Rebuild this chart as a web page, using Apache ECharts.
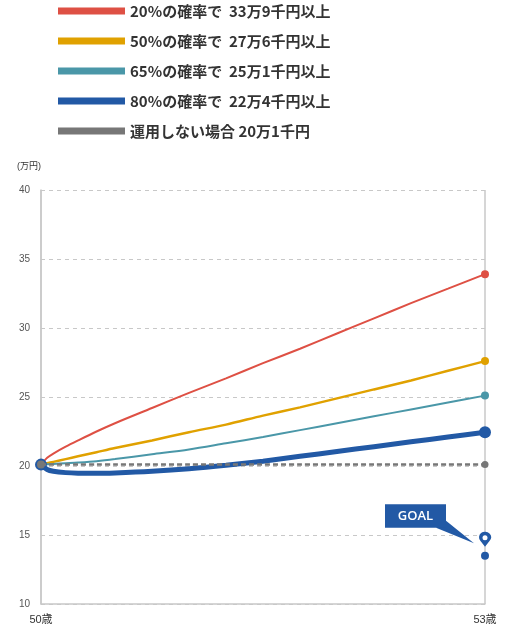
<!DOCTYPE html>
<html>
<head>
<meta charset="utf-8">
<script src="https://cdn.jsdelivr.net/npm/echarts@6/dist/echarts.min.js"></script>
<style>html,body{margin:0;padding:0;background:#fff}#c{width:516px;height:630px}</style>
</head>
<body>
<div id="c"></div>
<script>
// months from age 50
var months = [0, 0.5, 1, 2, 3, 4.5, 6, 9, 12, 15, 18, 21, 24, 27, 30, 33, 36];
var xTickLabels = {0: '50歳', 36: '53歳'};
var seriesNames = [
  '20%の確率で  33万9千円以上',
  '50%の確率で  27万6千円以上',
  '65%の確率で  25万1千円以上',
  '80%の確率で  22万4千円以上',
  '運用しない場合 20万1千円'
];
var p20 = [20.1, 20.6, 20.9, 21.4, 21.85, 22.5, 23.1, 24.2, 25.3, 26.35, 27.45, 28.5, 29.6, 30.7, 31.8, 32.85, 33.9];
var p50 = [20.1, 20.2, 20.3, 20.5, 20.7, 21.0, 21.3, 21.85, 22.45, 23.0, 23.65, 24.25, 24.9, 25.55, 26.2, 26.9, 27.6];
var p65 = [20.1, 20.12, 20.15, 20.2, 20.25, 20.35, 20.5, 20.85, 21.2, 21.65, 22.1, 22.6, 23.1, 23.6, 24.1, 24.6, 25.1];
var p80 = [20.1, 19.75, 19.62, 19.52, 19.48, 19.47, 19.5, 19.62, 19.8, 20.05, 20.35, 20.7, 21.05, 21.4, 21.75, 22.1, 22.45];
var noInvest = [20.1, 20.1, 20.1, 20.1, 20.1, 20.1, 20.1, 20.1, 20.1, 20.1, 20.1, 20.1, 20.1, 20.1, 20.1, 20.1, 20.1];
var goalMonth = 36;
var goalValue = 13.5;
var goalLabel = 'GOAL';

var colors = ['#de5044', '#e0a100', '#4a97a8', '#2259a5', '#777777'];
var FONT = '"Liberation Sans", "Noto Sans CJK JP", sans-serif';

function pairs(vals) { return months.map(function (m, i) { return [m, vals[i]]; }); }
var last = months.length - 1;
function sizeFn(startSize, endSize) {
  return function (v, p) {
    if (p.dataIndex === 0) return startSize;
    if (p.dataIndex === last) return endSize;
    return 0;
  };
}

var chart = echarts.init(document.getElementById('c'), null, {renderer: 'canvas'});
var lines = [
  {vals: p20, w: 2, start: 0, end: 8},
  {vals: p50, w: 2.5, start: 0, end: 8},
  {vals: p65, w: 2, start: 0, end: 8},
  {vals: p80, w: 5, start: 12, end: 12},
  {vals: noInvest, w: 2.5, start: 8, end: 7, dash: [5, 3]}
];
var series = lines.map(function (l, i) {
  return {
    // dashed series gets an internal name; its legend entry is a solid proxy below
    name: l.dash ? 'noInvestLine' : seriesNames[i],
    type: 'line',
    data: pairs(l.vals),
    smooth: 0.3,
    symbol: 'circle',
    showSymbol: true,
    showAllSymbol: true,
    symbolSize: sizeFn(l.start, l.end),
    lineStyle: {color: colors[i], width: l.w, type: l.dash ? l.dash : 'solid'},
    itemStyle: {color: colors[i]},
    z: 2 + i,
    animation: false
  };
});
// solid legend proxy for the no-investment line
series.push({
  name: seriesNames[4], type: 'scatter', data: [],
  itemStyle: {color: colors[4], opacity: 1}, animation: false
});
// GOAL markers
series.push({
  type: 'scatter', data: [[goalMonth, goalValue]], symbol: 'circle', symbolSize: 8,
  itemStyle: {color: colors[3], opacity: 1}, z: 10, animation: false, silent: true
});
series.push({
  type: 'scatter', data: [[goalMonth, goalValue]],
  symbol: 'path://M5 13.5 L1.25 8.3 A5 5 0 1 1 8.75 8.3 Z',
  symbolSize: [12, 15], symbolOffset: [0, -16.5],
  itemStyle: {color: colors[3], opacity: 1}, z: 10, animation: false, silent: true
});
series.push({
  type: 'scatter', data: [[goalMonth, goalValue]], symbol: 'circle', symbolSize: 5,
  symbolOffset: [0, -18],
  itemStyle: {color: '#ffffff', opacity: 1}, z: 11, animation: false, silent: true
});

chart.setOption({
  animation: false,
  legend: {
    orient: 'vertical', left: 53, top: -1.5,
    itemWidth: 67, itemHeight: 7, itemGap: 15,
    icon: 'rect',
    data: seriesNames.map(function (n, i) {
      return {name: n, icon: 'rect', itemStyle: {color: colors[i], borderWidth: 0, borderType: 'solid', opacity: 1}};
    }),
    textStyle: {fontFamily: '"Noto Sans CJK JP", sans-serif', fontSize: 15, fontWeight: 'bold', color: '#333'},
    selectedMode: false
  },
  grid: {left: 41, right: 31, top: 190, bottom: 26, containLabel: false},
  xAxis: {
    type: 'value', min: 0, max: 36, interval: 36,
    axisLine: {show: true, lineStyle: {color: '#c8c8c8', width: 1.5}},
    axisTick: {show: false},
    splitLine: {show: true, lineStyle: {color: '#c8c8c8', width: 1.5}},
    axisLabel: {
      formatter: function (v) { return xTickLabels[v] || ''; },
      color: '#333', fontSize: 11, fontFamily: FONT, margin: 10
    }
  },
  yAxis: {
    type: 'value', min: 10, max: 40, interval: 5,
    name: '(万円)', nameLocation: 'end', nameGap: 19,
    nameTextStyle: {align: 'right', color: '#333', fontSize: 9, fontFamily: FONT},
    axisLine: {show: true, lineStyle: {color: '#c8c8c8', width: 1.5}},
    axisTick: {show: false},
    splitLine: {show: true, lineStyle: {color: '#c8c8c8', type: [4, 4], width: 1}},
    axisLabel: {color: '#555', fontSize: 10, fontFamily: FONT, margin: 11}
  },
  series: series
});

var gp = chart.convertToPixel({gridIndex: 0}, [goalMonth, goalValue]);
var gx = gp[0], gy = gp[1];
chart.setOption({
  graphic: [
    {type: 'polygon', z: 20, shape: {points: [[gx - 49, gy - 28], [gx - 39, gy - 35], [gx - 11, gy - 12.5]]}, style: {fill: colors[3]}},
    {type: 'rect', z: 20, shape: {x: gx - 100, y: gy - 51.5, width: 61, height: 23.5}, style: {fill: colors[3]}},
    {type: 'text', z: 21, x: gx - 69.5, y: gy - 39.5, style: {text: goalLabel, fill: '#fff', font: '600 13px "Open Sans", "Noto Sans", sans-serif', align: 'center', verticalAlign: 'middle'}}
  ]
});
</script>
</body>
</html>
